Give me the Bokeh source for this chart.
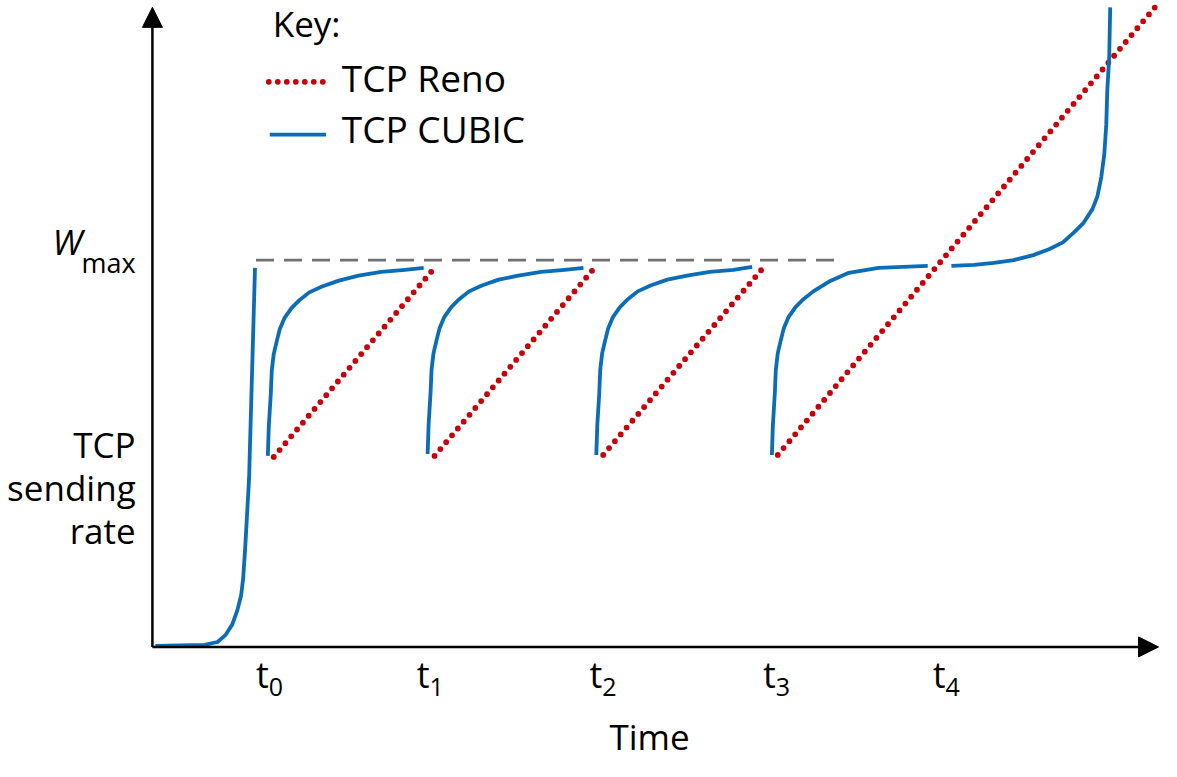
from bokeh.plotting import figure
from bokeh.models import Range1d, Arrow, NormalHead
from bokeh.core.properties import value
from bokeh.embed import file_html
from bokeh.resources import INLINE

# ---------------- data (time units, sending-rate units) ----------------
wmax = 395
wmax_line_x = [105, 696]

tick_times = [118, 281, 456, 632, 804]
tick_subscripts = ["0", "1", "2", "3", "4"]

# TCP CUBIC: slow start, then concave / convex cubic growth segments
cubic_slow_x = [3, 53, 66, 74, 81, 86, 90, 92, 94, 98, 104]
cubic_slow_y = [1, 2, 5, 12, 23, 37, 53, 70, 100, 172, 387]

cubic_1_x = [117, 118, 120, 121, 123, 126, 129, 134, 141, 149, 159, 172, 189, 209, 232, 256, 275]
cubic_1_y = [195, 225, 258, 282, 299, 312, 324, 336, 346, 354, 362, 368, 374, 379, 383, 385, 387]

cubic_2_x = [279, 280, 282, 283, 285, 288, 291, 296, 303, 311, 321, 334, 351, 371, 394, 418, 437]
cubic_2_y = [197, 227, 260, 283, 300, 313, 325, 337, 347, 355, 363, 369, 375, 379, 383, 385, 387]

cubic_3_x = [450, 451, 453, 454, 456, 459, 462, 467, 474, 482, 492, 505, 522, 542, 565, 589, 608]
cubic_3_y = [196, 226, 259, 283, 300, 313, 325, 337, 347, 355, 363, 369, 375, 379, 383, 385, 388]

cubic_4a_x = [628, 629, 631, 632, 634, 637, 640, 645, 652, 660, 670, 686, 706, 736, 786]
cubic_4a_y = [196, 226, 259, 283, 300, 313, 325, 337, 347, 355, 363, 373, 382, 387, 389]
cubic_4b_x = [810, 833, 853, 873, 893, 909, 923, 934, 944, 953, 958, 962, 965, 967, 968, 970, 971]
cubic_4b_y = [389, 390, 392, 395, 400, 406, 413, 423, 433, 447, 460, 480, 503, 533, 567, 603, 653]

# TCP Reno: linear (AIMD) growth segments
reno_1_x = [123, 286]
reno_1_y = [194, 387]
reno_2_x = [286, 449]
reno_2_y = [195, 388]
reno_3_x = [457, 620]
reno_3_y = [196, 388]
reno_4_x = [634, 1018]
reno_4_y = [196, 655]

# ---------------- styles ----------------
BLUE = "#0b6cb8"
RED = "#c8000a"
GREY = "#707070"
FONT = value("Open Sans")


def off(size):
    # compensate for where the renderer puts the alphabetic baseline
    return -round(0.42 * size)


p = figure(width=1161, height=761, output_backend="svg", toolbar_location=None,
           x_range=Range1d(-154, 1023), y_range=Range1d(-117, 660),
           x_axis_type=None, y_axis_type=None, min_border=0)
p.outline_line_color = None
p.grid.visible = False
p.background_fill_color = "white"

# axes with arrow heads
p.add_layout(Arrow(end=NormalHead(size=20, fill_color="black", line_color="black"),
                   x_start=0, y_start=0, x_end=0, y_end=653,
                   line_color="black", line_width=2.5))
p.add_layout(Arrow(end=NormalHead(size=20, fill_color="black", line_color="black"),
                   x_start=0, y_start=0, x_end=1020, y_end=0,
                   line_color="black", line_width=2.5))

# Wmax reference line
p.line(wmax_line_x, [wmax, wmax], line_color=GREY, line_width=2.8, line_dash="18 10")

# Reno (dotted)
for xs, ys in [(reno_1_x, reno_1_y), (reno_2_x, reno_2_y),
               (reno_3_x, reno_3_y), (reno_4_x, reno_4_y)]:
    p.line(xs, ys, line_color=RED, line_width=5.8, line_dash="0 9", line_cap="round")

# CUBIC (solid)
for xs, ys in [(cubic_slow_x, cubic_slow_y), (cubic_1_x, cubic_1_y),
               (cubic_2_x, cubic_2_y), (cubic_3_x, cubic_3_y),
               (cubic_4a_x, cubic_4a_y), (cubic_4b_x, cubic_4b_y)]:
    p.line(xs, ys, line_color=BLUE, line_width=3.8, line_join="round")

# legend ("Key:")
p.text(x=[122], y=[621], text=["Key:"], text_font=FONT, text_font_size="35px",
       text_baseline="alphabetic", text_align="left", text_color="black",
       y_offset=off(35))
p.line([118, 178], [577, 577], line_color=RED, line_width=5.8, line_dash="0 9", line_cap="round")
p.line([119, 176], [523, 523], line_color=BLUE, line_width=3.8)
p.text(x=[192, 192], y=[565, 513], text=["TCP Reno", "TCP CUBIC"], text_font=FONT,
       text_font_size="37px", text_baseline="alphabetic", text_align="left",
       text_color="black", y_offset=off(37))

# y label
p.text(x=[-17, -17, -17], y=[191, 147, 104], text=["TCP", "sending", "rate"],
       text_font=FONT, text_font_size="35px", text_align="right",
       text_baseline="alphabetic", text_color="black", y_offset=off(35))

# Wmax label
p.text(x=[-71], y=[399], text=["W"], text_font=FONT, text_font_size="35px",
       text_font_style="italic", text_align="right", text_baseline="alphabetic",
       text_color="black", y_offset=off(35))
p.text(x=[-72], y=[381], text=["max"], text_font=FONT, text_font_size="27px",
       text_align="left", text_baseline="alphabetic", text_color="black",
       y_offset=off(27))

# time ticks t0..t4
p.text(x=tick_times, y=[-43] * len(tick_times), text=["t"] * len(tick_times),
       text_font=FONT, text_font_size="36px", text_align="right",
       text_baseline="alphabetic", text_color="black", y_offset=off(36))
p.text(x=tick_times, y=[-51] * len(tick_times), text=tick_subscripts,
       text_font=FONT, text_font_size="25px", text_align="left",
       text_baseline="alphabetic", text_color="black", y_offset=off(25))

# x label
p.text(x=[504], y=[-107], text=["Time"], text_font=FONT, text_font_size="35px",
       text_align="center", text_baseline="alphabetic", text_color="black",
       y_offset=off(35))

open("out.html", "w").write(file_html(p, INLINE))
